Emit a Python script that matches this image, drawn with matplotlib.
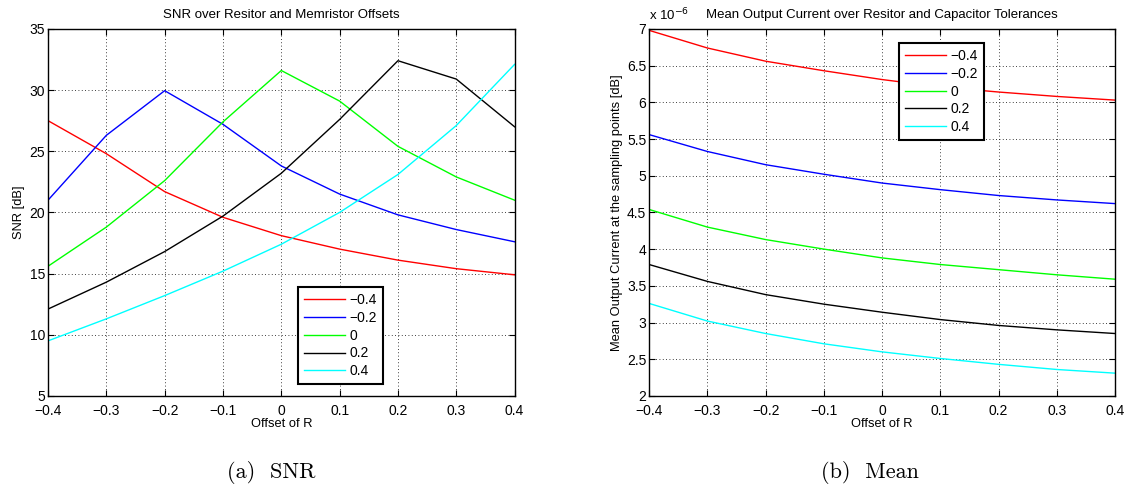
import matplotlib
matplotlib.use("Agg")
import matplotlib.pyplot as plt
import numpy as np

plt.rcParams['font.family'] = ['Liberation Sans', 'DejaVu Sans']
plt.rcParams['axes.unicode_minus'] = True

# offsets of R (x axis) and the memristor / capacitor offsets (series)
offsets = [-0.4, -0.3, -0.2, -0.1, 0.0, 0.1, 0.2, 0.3, 0.4]
series_labels = ['\u22120.4', '\u22120.2', '0', '0.2', '0.4']
colors = ['#ff0000', '#0000ff', '#00ff00', '#000000', '#00ffff']

# SNR [dB]
snr_m04 = [27.5, 24.8, 21.7, 19.6, 18.1, 17.0, 16.1, 15.4, 14.9]
snr_m02 = [21.0, 26.3, 29.95, 27.2, 23.8, 21.5, 19.8, 18.6, 17.6]
snr_0   = [15.6, 18.8, 22.6, 27.4, 31.6, 29.1, 25.4, 22.9, 21.0]
snr_p02 = [12.1, 14.3, 16.8, 19.7, 23.2, 27.6, 32.4, 30.9, 27.0]
snr_p04 = [9.5, 11.3, 13.2, 15.2, 17.4, 20.0, 23.1, 27.1, 32.1]

# mean output current, units of 1e-6
mean_m04 = [6.98, 6.74, 6.56, 6.43, 6.31, 6.21, 6.14, 6.08, 6.03]
mean_m02 = [5.56, 5.33, 5.15, 5.02, 4.90, 4.81, 4.73, 4.67, 4.62]
mean_0   = [4.54, 4.30, 4.13, 4.00, 3.88, 3.79, 3.72, 3.65, 3.59]
mean_p02 = [3.79, 3.56, 3.38, 3.25, 3.14, 3.04, 2.96, 2.90, 2.85]
mean_p04 = [3.26, 3.02, 2.85, 2.71, 2.60, 2.51, 2.43, 2.36, 2.31]

snr = [snr_m04, snr_m02, snr_0, snr_p02, snr_p04]
mean = [mean_m04, mean_m02, mean_0, mean_p02, mean_p04]

fig = plt.figure(figsize=(11.27, 4.9), dpi=100)
ax1 = fig.add_axes([0.0426, 0.192, 0.414, 0.749])
ax2 = fig.add_axes([0.576, 0.192, 0.4135, 0.749])


def style(ax):
    ax.set_xlim(-0.4, 0.4)
    ax.set_xticks(offsets)
    ax.set_xticklabels(['\u22120.4', '\u22120.3', '\u22120.2', '\u22120.1', '0',
                        '0.1', '0.2', '0.3', '0.4'])
    ax.grid(True, linestyle=(0, (1, 3)), color='black', linewidth=0.6)
    ax.tick_params(direction='in', top=True, right=True, labelsize=10,
                   length=4, width=0.8, pad=2)
    ax.tick_params(axis='x', pad=6)
    for s in ax.spines.values():
        s.set_linewidth(1.0)
    ax.set_xlabel('Offset of R', fontsize=9.3, labelpad=0)


def add_legend(ax, x, y):
    leg = ax.legend(loc='upper left', bbox_to_anchor=(x, y), fontsize=10,
                    fancybox=False, framealpha=1, edgecolor='black',
                    handlelength=2.95, handletextpad=0.3, labelspacing=0.27,
                    borderpad=0.45, borderaxespad=0)
    leg.get_frame().set_linewidth(1.5)


for ys, c, lab in zip(snr, colors, series_labels):
    ax1.plot(offsets, ys, color=c, linewidth=1.0, label=lab)
style(ax1)
ax1.set_ylim(5, 35)
ax1.set_yticks(np.arange(5, 36, 5))
ax1.set_ylabel('SNR [dB]', fontsize=9.3, labelpad=3)
ax1.set_title('SNR over Resitor and Memristor Offsets', fontsize=9.5, pad=8)
add_legend(ax1, 0.535, 0.297)

for ys, c, lab in zip(mean, colors, series_labels):
    ax2.plot(offsets, ys, color=c, linewidth=1.0, label=lab)
style(ax2)
ax2.set_ylim(2, 7)
ax2.set_yticks(np.arange(2, 7.01, 0.5))
ax2.set_yticklabels(['2', '2.5', '3', '3.5', '4', '4.5', '5', '5.5', '6', '6.5', '7'])
ax2.set_ylabel('Mean Output Current at the sampling points [dB]', fontsize=9.3, labelpad=3)
ax2.set_title('Mean Output Current over Resitor and Capacitor Tolerances',
              fontsize=9.5, pad=8)
ax2.text(0.0, 1.015, 'x 10$^{-6}$', transform=ax2.transAxes, fontsize=9.5,
         ha='left', va='bottom')
add_legend(ax2, 0.536, 0.962)

fig.text(271 / 1127, 1 - 472 / 490, '(a)  SNR', family='cmr10', fontsize=16,
         ha='center', va='center')
fig.text(870 / 1127, 1 - 472 / 490, '(b)  Mean', family='cmr10', fontsize=16,
         ha='center', va='center')

fig.savefig('out.png', dpi=100)
